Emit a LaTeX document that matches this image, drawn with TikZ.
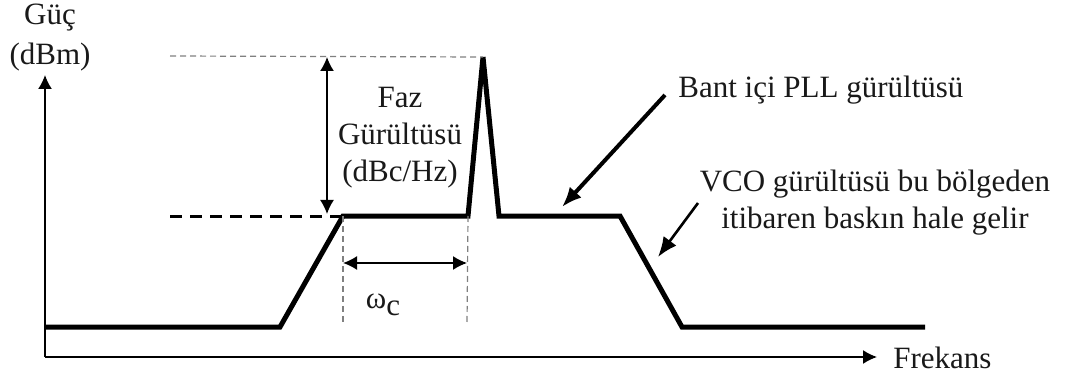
\documentclass[tikz,border=0pt]{standalone}
\usepackage{fontspec}
\setmainfont{Liberation Serif}
\usetikzlibrary{arrows.meta}

\begin{document}
\begin{tikzpicture}[
    x=0.5pt, y=-0.5pt,
    every node/.style={
        font=\fontsize{15.5}{18.5}\selectfont,
        text=black!90,
        align=center,
        inner sep=0pt
    },
    axis/.style={draw, line width=0.8pt, -{Latex[length=7pt,width=7pt]}},
    curve/.style={draw, line width=2.5pt, line join=miter},
    levelline/.style={draw, line width=1.5pt, dash pattern=on 6pt off 4pt},
    guide/.style={draw, gray, line width=0.6pt, dash pattern=on 3pt off 2pt},
    span/.style={draw, line width=0.8pt, {Latex[length=7pt,width=7pt]}-{Latex[length=7pt,width=7pt]}},
    pointer/.style={draw, line width=2pt, -{Latex[length=10pt,width=8pt]}}
]
\useasboundingbox (0,0) rectangle (1077,374);

% axes
\coordinate (origin) at (45,357);
\coordinate (ytop) at (45,75);
\coordinate (xend) at (877,357);
\draw[axis] (origin) -- (ytop);
\draw[axis] (origin) -- (xend);
\node (ylabel) at (50,38) {Güç\\[1.5pt](dBm)};
\node[anchor=west] (xlabel) at (893,358) {Frekans};

% noise profile
\coordinate (p0) at (45,327);
\coordinate (p1) at (280,327);
\coordinate (p2) at (343,216);
\coordinate (p3) at (468,216);
\coordinate (peak) at (483,57);
\coordinate (p4) at (499,216);
\coordinate (p5) at (620,216);
\coordinate (p6) at (682,327);
\coordinate (p7) at (925,327);
\draw[curve] (p0) -- (p1) -- (p2) -- (p3) -- (peak) -- (p4) -- (p5) -- (p6) -- (p7);

% reference levels
\coordinate (lvlstart) at (170,216);
\coordinate (topstart) at (170,56);
\draw[levelline] (lvlstart) -- (p2);
\draw[guide] (topstart) -- (peak);

% phase noise span
\coordinate (pn top) at (327,57);
\coordinate (pn bot) at (327,214);
\draw[span] (pn top) -- (pn bot);
\node (pnlabel) at (400,138) {Faz\\Gürültüsü\\(dBc/Hz)};

% loop bandwidth
\coordinate (bw left) at (343,325);
\coordinate (bw right) at (467,325);
\draw[guide] (p2) -- (bw left);
\draw[guide] (p3) -- (bw right);
\coordinate (wl) at (343,263);
\coordinate (wr) at (467,263);
\draw[span] (wl) -- (wr);
\node (wc) at (383,305) {ω\raisebox{-0.45ex}{c}};

% annotations
\node[anchor=west] (pll) at (678,90) {Bant içi PLL gürültüsü};
\coordinate (pll from) at (665,95);
\coordinate (pll to) at (562,207);
\draw[pointer] (pll from) -- (pll to);

\node (vco) at (875,203) {VCO gürültüsü bu bölgeden\\itibaren baskın hale gelir};
\coordinate (vco from) at (698,203);
\coordinate (vco to) at (658,257);
\draw[pointer, line width=1.3pt] (vco from) -- (vco to);

\end{tikzpicture}
\end{document}
